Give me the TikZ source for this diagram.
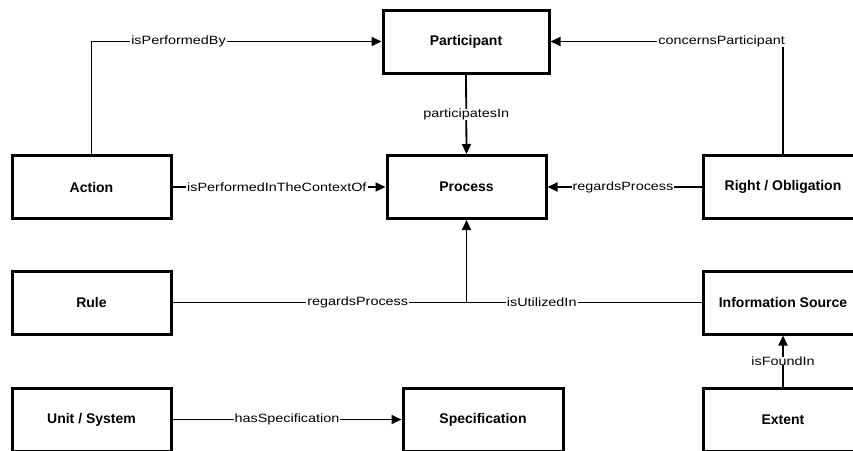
\documentclass[tikz,border=0pt]{standalone}
\usepackage{fontspec}
\setmainfont{Liberation Sans}
\newfontfamily\labelfont[FakeStretch=1.2]{Liberation Sans}
\usetikzlibrary{arrows.meta}
\tikzset{
  box/.style={draw, line width=3pt, minimum width=159pt, minimum height=63pt, inner sep=0pt,
    font=\fontsize{14}{16}\selectfont\bfseries, fill=white},
  conn/.style={line width=1.8pt},
  arr/.style={conn, -{Triangle[length=10pt,width=9pt]}},
  lbl/.style={fill=white, inner xsep=1pt, inner ysep=0pt, font=\labelfont\fontsize{12}{14}\selectfont}
}
\begin{document}
\begin{tikzpicture}[x=1pt,y=-1pt]
\useasboundingbox (0,0) rectangle (853,450);
% boxes
\node[box, minimum width=166pt] (part) at (466,41.5) {Participant};
\node[box] (proc) at (466.5,187) {Process};
\node[box] (act) at (91.5,187) {Action};
\node[box, minimum width=160pt] (ro) at (783,187) {Right / Obligation};
\node[box] (rule) at (91.5,302.5) {Rule};
\node[box, minimum width=160pt] (info) at (783,302.5) {Information Source};
\node[box] (unit) at (91.5,419.5) {Unit / System};
\node[box, minimum width=160pt] (spec) at (483,419.5) {Specification};
\node[box, minimum width=160pt] (ext) at (783,419.5) {Extent};
% connectors
\draw[arr] (act.north) |- node[lbl, pos=0.65] {isPerformedBy} (part.west);
\draw[arr] (ro.north) |- node[lbl, pos=0.632] {concernsParticipant} (part.east);
\draw[arr] (part.south) -- node[lbl, pos=0.5] {participatesIn} (proc.north);
\draw[arr] (act.east) -- node[lbl, pos=0.49] {isPerformedInTheContextOf} (proc.west);
\draw[arr] (ro.west) -- node[lbl, pos=0.51] {regardsProcess} (proc.east);
\coordinate (j) at (proc.south |- rule.east);
\draw[conn] (rule.east) -- node[lbl, pos=0.63] {regardsProcess} (j);
\draw[conn] (info.west) -- node[lbl, pos=0.68] {isUtilizedIn} (j);
\draw[arr] (j) -- (proc.south);
\draw[arr] (ext.north) -- node[lbl, pos=0.5] {isFoundIn} (info.south);
\draw[arr] (unit.east) -- node[lbl, pos=0.5] {hasSpecification} (spec.west);
\end{tikzpicture}
\end{document}
